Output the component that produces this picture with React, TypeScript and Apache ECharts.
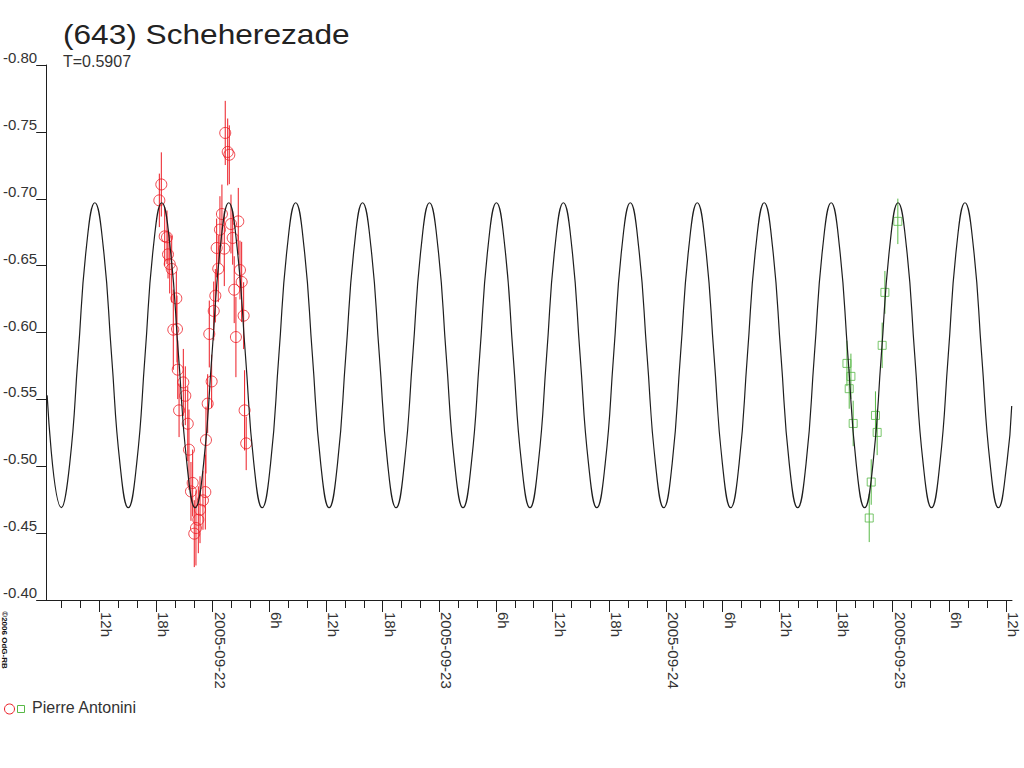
import React, { useEffect, useRef } from "react";
import * as echarts from "echarts";

// Hours since 2005-09-21 00:00 UT
const X_MIN = 5.415;
const X_MAX = 108.65;

const LABEL_HOURS = [12, 18, 24, 30, 36, 42, 48, 54, 60, 66, 72, 78, 84, 90, 96, 102, 108];
const MINOR_HOURS = [
  8, 10, 12, 14, 16, 18, 20, 22, 24, 26, 28, 30, 32, 34, 36, 38, 40, 42, 44, 46, 48, 50, 52, 54, 56,
  58, 60, 62, 64, 66, 68, 70, 72, 74, 76, 78, 80, 82, 84, 86, 88, 90, 92, 94, 96, 98, 100, 102, 104,
  106, 108,
];

// Session 1 (red circles)
const RED_HOURS = [
  18.56, 18.35, 18.92, 19.16, 19.27, 19.45, 19.66, 20.15, 19.83, 20.22, 20.3, 20.89, 21.1, 20.44,
  21.36, 21.49, 21.88, 21.7, 22.48, 22.23, 22.05, 22.66, 22.97, 23.22, 23.29, 23.47, 23.89, 23.64,
  24.11, 24.28, 24.59, 24.42, 25.23, 24.77, 24.98, 25.33, 25.59, 25.76, 25.94, 26.12, 26.71, 26.28,
  26.89, 27.07, 27.28, 26.46, 27.38, 27.55,
];
const RED_MAGS = [
  -0.7107, -0.6988, -0.6719, -0.6712, -0.6584, -0.6512, -0.6475, -0.6255, -0.6021, -0.6026, -0.5722,
  -0.5627, -0.5527, -0.5418, -0.5318, -0.5124, -0.4875, -0.4812, -0.46, -0.4538, -0.4496, -0.4675,
  -0.4745, -0.4807, -0.5196, -0.5468, -0.5634, -0.5989, -0.6161, -0.6275, -0.6477, -0.6632, -0.6627,
  -0.6769, -0.6886, -0.7492, -0.735, -0.7329, -0.6811, -0.6707, -0.6831, -0.632, -0.6467, -0.6378,
  -0.6126, -0.5966, -0.5418, -0.5171,
];
const RED_ERRS = [
  0.024, 0.02, 0.022, 0.02, 0.018, 0.022, 0.025, 0.02, 0.03, 0.025, 0.022, 0.025, 0.022, 0.02, 0.028,
  0.03, 0.025, 0.022, 0.025, 0.028, 0.025, 0.025, 0.022, 0.028, 0.025, 0.022, 0.02, 0.025, 0.022, 0.02,
  0.025, 0.022, 0.028, 0.025, 0.022, 0.024, 0.025, 0.022, 0.022, 0.02, 0.025, 0.025, 0.022, 0.03,
  0.025, 0.03, 0.03, 0.02,
];

// Session 2 (green squares)
const GREEN_HOURS = [96.56, 95.19, 94.9, 91.17, 91.59, 91.41, 91.83, 94.19, 94.37, 93.74, 93.53];
const GREEN_MAGS = [-0.6831, -0.63, -0.5904, -0.5769, -0.5672, -0.558, -0.532, -0.538, -0.5253, -0.4882, -0.4613];
const GREEN_ERRS = [0.017, 0.016, 0.017, 0.017, 0.017, 0.015, 0.017, 0.018, 0.017, 0.017, 0.018];

// Fitted lightcurve, points
const CURVE_HOURS = [
  6.47,
  7.98, 8.86, 9.75, 10.63, 11.52, 12.41, 13.29, 14.18,
  15.06, 15.95, 16.84, 17.72, 18.61, 19.49, 20.38, 21.27,
  22.15, 23.04, 23.92, 24.81, 25.7, 26.58, 27.47, 28.36,
  29.24, 30.13, 31.01, 31.9, 32.79, 33.67, 34.56, 35.44,
  36.33, 37.22, 38.1, 38.99, 39.87, 40.76, 41.65, 42.53,
  43.42, 44.3, 45.19, 46.08, 46.96, 47.85, 48.73, 49.62,
  50.51, 51.39, 52.28, 53.16, 54.05, 54.94, 55.82, 56.71,
  57.6, 58.48, 59.37, 60.25, 61.14, 62.03, 62.91, 63.8,
  64.68, 65.57, 66.46, 67.34, 68.23, 69.11, 70.0, 70.89,
  71.77, 72.66, 73.54, 74.43, 75.32, 76.2, 77.09, 77.98,
  78.86, 79.75, 80.63, 81.52, 82.41, 83.29, 84.18, 85.06,
  85.95, 86.84, 87.72, 88.61, 89.5, 90.38, 91.27, 92.15,
  93.04, 93.93, 94.81, 95.7, 96.58, 97.47, 98.35, 99.24,
  100.13, 101.01, 101.9, 102.78, 103.67, 104.56, 105.44, 106.33,
  107.21, 108.1,
  108.62,
];
const CURVE_MAGS = [
  -0.553,
  -0.469, -0.502, -0.583, -0.664, -0.697, -0.664, -0.583, -0.502,
  -0.469, -0.502, -0.583, -0.664, -0.697, -0.664, -0.583, -0.502,
  -0.469, -0.502, -0.583, -0.664, -0.697, -0.664, -0.583, -0.502,
  -0.469, -0.502, -0.583, -0.664, -0.697, -0.664, -0.583, -0.502,
  -0.469, -0.502, -0.583, -0.664, -0.697, -0.664, -0.583, -0.502,
  -0.469, -0.502, -0.583, -0.664, -0.697, -0.664, -0.583, -0.502,
  -0.469, -0.502, -0.583, -0.664, -0.697, -0.664, -0.583, -0.502,
  -0.469, -0.502, -0.583, -0.664, -0.697, -0.664, -0.583, -0.502,
  -0.469, -0.502, -0.583, -0.664, -0.697, -0.664, -0.583, -0.502,
  -0.469, -0.502, -0.583, -0.664, -0.697, -0.664, -0.583, -0.502,
  -0.469, -0.502, -0.583, -0.664, -0.697, -0.664, -0.583, -0.502,
  -0.469, -0.502, -0.583, -0.664, -0.697, -0.664, -0.583, -0.502,
  -0.469, -0.502, -0.583, -0.664, -0.697, -0.664, -0.583, -0.502,
  -0.469, -0.502, -0.583, -0.664, -0.697, -0.664, -0.583, -0.502,
  -0.469, -0.502,
  -0.545,
];

const RED = "#ec1c24";
const GREEN = "#58b947";
const INK = "#1e1e1e";
const TXT = "#333333";
const FONT = "'Liberation Sans', Arial, sans-serif";

function fmtHour(v: number): string {
  const h = Math.round(v);
  const hd = ((h % 24) + 24) % 24;
  if (hd === 0) {
    const day = 21 + Math.round(h / 24);
    return "2005-09-" + String(day).padStart(2, "0");
  }
  return hd + "h";
}

function errBar(color: string) {
  return (params: any, api: any) => {
    const x = api.value(0);
    const y = api.value(1);
    const e = api.value(2);
    const p1 = api.coord([x, y - e]);
    const p2 = api.coord([x, y + e]);
    return {
      type: "line",
      shape: { x1: p1[0], y1: p1[1], x2: p2[0], y2: p2[1] },
      style: { stroke: color, lineWidth: 1 },
    };
  };
}

export default function App() {
  const ref = useRef<HTMLDivElement>(null);

  useEffect(() => {
    document.body.style.margin = "0";
    if (!ref.current) return;
    const chart = echarts.init(ref.current, null, { renderer: "svg" });

    const redPts = RED_HOURS.map((h, i) => [h, RED_MAGS[i], RED_ERRS[i]]);
    const greenPts = GREEN_HOURS.map((h, i) => [h, GREEN_MAGS[i], GREEN_ERRS[i]]);
    const curve = CURVE_HOURS.map((h, i) => [h, CURVE_MAGS[i]]);

    chart.setOption({
      animation: false,
      backgroundColor: "#ffffff",
      textStyle: { fontFamily: FONT },
      grid: { left: 36, top: 65, width: 976, height: 535, containLabel: false },
      xAxis: [
        {
          type: "value",
          min: X_MIN,
          max: X_MAX,
          position: "bottom",
          axisLine: { show: true, onZero: false, lineStyle: { color: INK, width: 1 } },
          axisTick: { show: true, length: 12, customValues: LABEL_HOURS, lineStyle: { color: INK } },
          axisLabel: {
            show: true,
            customValues: LABEL_HOURS,
            rotate: -90,
            align: "left",
            verticalAlign: "bottom",
            margin: 12,
            fontSize: 15,
            color: TXT,
            fontFamily: FONT,
            formatter: (v: number) => fmtHour(v),
          },
          splitLine: { show: false },
        },
        {
          type: "value",
          min: X_MIN,
          max: X_MAX,
          position: "bottom",
          axisLine: { show: false, onZero: false },
          axisTick: { show: true, length: 8, customValues: MINOR_HOURS, lineStyle: { color: INK } },
          axisLabel: { show: false },
          splitLine: { show: false },
        },
      ],
      yAxis: {
        type: "value",
        inverse: true,
        min: -0.8,
        max: -0.4,
        interval: 0.05,
        offset: -9,
        axisLine: { show: true, onZero: false, lineStyle: { color: INK, width: 1 } },
        axisTick: { show: true, length: 10, lineStyle: { color: INK } },
        axisLabel: {
          margin: 9,
          fontSize: 15,
          color: TXT,
          fontFamily: FONT,
          verticalAlign: "bottom",
          formatter: (v: number) => v.toFixed(2),
        },
        splitLine: { show: false },
      },
      series: [
        {
          type: "custom",
          name: "err1",
          renderItem: errBar(RED),
          data: redPts,
          encode: { x: 0, y: 1 },
          z: 2,
          silent: true,
        },
        {
          type: "custom",
          name: "err2",
          renderItem: errBar(GREEN),
          data: greenPts,
          encode: { x: 0, y: 1 },
          z: 2,
          silent: true,
        },
        {
          type: "scatter",
          name: "Pierre Antonini 1",
          data: redPts.map((p) => [p[0], p[1]]),
          symbol: "circle",
          symbolSize: 11,
          itemStyle: { color: "rgba(255,255,255,0)", borderColor: RED, borderWidth: 1 },
          z: 3,
        },
        {
          type: "scatter",
          name: "Pierre Antonini 2",
          data: greenPts.map((p) => [p[0], p[1]]),
          symbol: "rect",
          symbolSize: 8,
          itemStyle: { color: "rgba(255,255,255,0)", borderColor: GREEN, borderWidth: 1 },
          z: 3,
        },
        {
          type: "line",
          name: "fit",
          data: curve,
          smooth: true,
          showSymbol: false,
          symbol: "none",
          lineStyle: { color: INK, width: 1.2 },
          z: 4,
          silent: true,
        },
      ],
      graphic: [
        {
          type: "text",
          x: 63,
          y: 34,
          scaleX: 1.13,
          style: {
            text: "(643) Scheherezade",
            font: `28px ${FONT}`,
            fill: "#222",
            align: "left",
            verticalAlign: "middle",
          },
        },
        {
          type: "text",
          left: 63,
          top: 53,
          style: { text: "T=0.5907", font: `16px ${FONT}`, fill: TXT },
        },
        {
          type: "text",
          x: 4,
          y: 640,
          rotation: -Math.PI / 2,
          style: {
            text: "©2006 OdG-RB",
            font: `bold 8px ${FONT}`,
            fill: "#111",
            align: "center",
            verticalAlign: "middle",
          },
        },
        {
          type: "circle",
          shape: { cx: 9.5, cy: 709, r: 5 },
          style: { fill: "none", stroke: RED, lineWidth: 1 },
        },
        {
          type: "rect",
          shape: { x: 17.5, y: 705.5, width: 7, height: 7 },
          style: { fill: "none", stroke: GREEN, lineWidth: 1 },
        },
        {
          type: "text",
          left: 32,
          top: 699,
          style: { text: "Pierre Antonini", font: `16px ${FONT}`, fill: TXT },
        },
      ],
    });

    return () => chart.dispose();
  }, []);

  return <div ref={ref} style={{ width: 1024, height: 768 }} />;
}
